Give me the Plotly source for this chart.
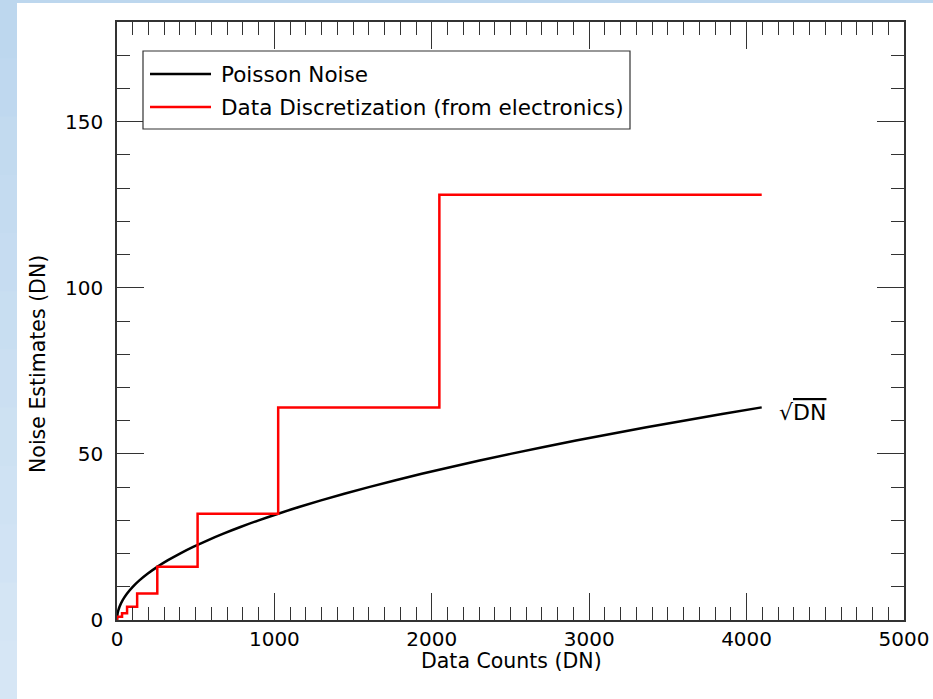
import plotly.graph_objects as go

# ---- data ----
dn_poisson = [0, 4, 16, 36, 64, 100, 144, 196, 256, 324, 400, 484, 576, 676, 784, 900,
              1024, 1156, 1296, 1444, 1600, 1764, 1936, 2116, 2304, 2500, 2704, 2916,
              3136, 3364, 3600, 3844, 4096]
noise_poisson = [0, 2, 4, 6, 8, 10, 12, 14, 16, 18, 20, 22, 24, 26, 28, 30,
                 32, 34, 36, 38, 40, 42, 44, 46, 48, 50, 52, 54,
                 56, 58, 60, 62, 64]

dn_discrete = [0, 0, 32, 64, 128, 256, 512, 1024, 2048, 4096]
noise_discrete = [0, 1, 2, 4, 8, 16, 32, 64, 128, 128]

legend_labels = ["Poisson Noise", "Data Discretization (from electronics)"]
legend_colors = ["black", "#ff0000"]

FONT = "DejaVu Sans"

# pixel -> paper helpers (plot area: x 117..904, y 22..620)
L, R, T, B = 117, 904, 22, 620
def px(x):
    return (x - L) / (R - L)
def py(y):
    return (B - y) / (B - T)

fig = go.Figure()
fig.add_trace(go.Scatter(x=dn_poisson, y=noise_poisson, mode="lines",
                         line=dict(color=legend_colors[0], width=2.5, shape="spline"),
                         name=legend_labels[0], showlegend=False))
fig.add_trace(go.Scatter(x=dn_discrete, y=noise_discrete, mode="lines",
                         line=dict(color=legend_colors[1], width=2.5, shape="hv"),
                         name=legend_labels[1], showlegend=False))

shapes = []
# background: blue gradient strip on left/top, white card
top_c = (189, 215, 238)
bot_c = (214, 230, 245)
nb = 12
for i in range(nb):
    t = i / (nb - 1)
    c = tuple(int(round(top_c[k] + (bot_c[k] - top_c[k]) * t)) for k in range(3))
    y0 = 699 * i / nb
    y1 = 699 * (i + 1) / nb + 1
    shapes.append(dict(type="rect", xref="paper", yref="paper", layer="below",
                       x0=px(0), x1=px(933), y0=py(y1), y1=py(y0),
                       fillcolor="rgb(%d,%d,%d)" % c, line=dict(width=0)))
shapes.append(dict(type="rect", xref="paper", yref="paper", layer="below",
                   x0=px(17), x1=px(933), y0=py(699), y1=py(3),
                   fillcolor="white", line=dict(width=0)))
# legend box
shapes.append(dict(type="rect", xref="paper", yref="paper", layer="above",
                   x0=px(143), x1=px(630), y0=py(129), y1=py(51),
                   fillcolor="white", line=dict(color="#333", width=1.2)))
for i, (yy) in enumerate([74, 107]):
    shapes.append(dict(type="line", xref="paper", yref="paper", layer="above",
                       x0=px(150), x1=px(211), y0=py(yy), y1=py(yy),
                       line=dict(color=legend_colors[i], width=2.5)))

annotations = []
for i, yy in enumerate([74, 107]):
    annotations.append(dict(xref="paper", yref="paper", x=px(219), y=py(yy),
                            text=legend_labels[i], showarrow=False,
                            xanchor="left", yanchor="middle",
                            font=dict(family=FONT, size=21.5, color="black")))
annotations.append(dict(xref="paper", yref="paper", x=px(777), y=py(412),
                        text="√<span style='text-decoration:overline'>DN</span>",
                        showarrow=False, xanchor="left", yanchor="middle",
                        font=dict(family=FONT, size=22, color="black")))
annotations.append(dict(xref="paper", yref="paper", x=px(38), y=py(364),
                        text="Noise Estimates (DN)", textangle=-90, showarrow=False,
                        xanchor="center", yanchor="middle",
                        font=dict(family=FONT, size=20.5, color="black")))
annotations.append(dict(xref="paper", yref="paper", x=px(512), y=py(661),
                        text="Data Counts (DN)", showarrow=False,
                        xanchor="center", yanchor="middle",
                        font=dict(family=FONT, size=20.5, color="black")))

axis_common = dict(showgrid=False, zeroline=False, showline=True, linecolor="#333",
                   linewidth=1.5, mirror="allticks", ticks="inside", ticklen=27,
                   tickwidth=1.2, tickcolor="#333", automargin=False,
                   tickfont=dict(family=FONT, size=20, color="black"))

fig.update_layout(
    width=933, height=699, autosize=False,
    margin=dict(l=L, r=933 - R, t=T, b=699 - B, pad=0),
    paper_bgcolor="white", plot_bgcolor="white",
    showlegend=False,
    shapes=shapes, annotations=annotations,
    xaxis=dict(range=[0, 5000], tickmode="linear", tick0=0, dtick=1000,
               minor=dict(ticks="inside", ticklen=13, dtick=100, tickwidth=1.2,
                          tickcolor="#333", showgrid=False),
               **axis_common),
    yaxis=dict(range=[0, 180], tickmode="linear", tick0=0, dtick=50,
               ticklabelstandoff=8,
               minor=dict(ticks="inside", ticklen=13, dtick=10, tickwidth=1.2,
                          tickcolor="#333", showgrid=False),
               **axis_common),
)

fig.write_html("out.html")
